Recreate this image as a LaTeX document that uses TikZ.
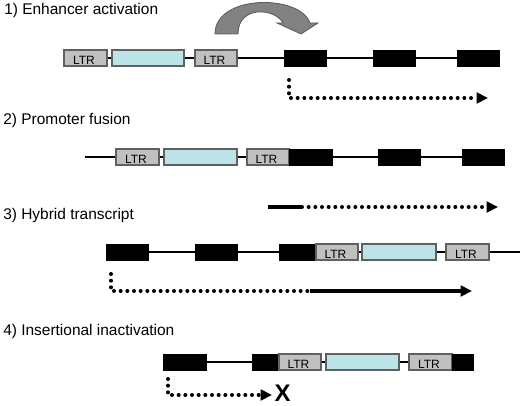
\documentclass[tikz,border=0pt]{standalone}
\usepackage{fontspec}
\setmainfont{Liberation Sans}
\usetikzlibrary{arrows.meta}
\definecolor{ltrgray}{RGB}{192,192,192}
\definecolor{edgegray}{RGB}{96,96,96}
\definecolor{virusblue}{RGB}{188,228,232}
\definecolor{bendgray}{RGB}{130,130,130}
\tikzset{
	gene/.style={line width=0.8pt},
	exon/.style={fill=black},
	ltr/.style={fill=ltrgray, draw=edgegray, line width=0.8pt},
	virus/.style={fill=virusblue, draw=edgegray, line width=0.8pt},
	ltrtext/.style={anchor=base, inner sep=0pt, font=\fontsize{9}{10}\selectfont},
	title/.style={anchor=base west, inner sep=0pt, font=\fontsize{11.6}{14}\selectfont},
	dots/.style={line width=3pt, line cap=round, dash pattern=on 0pt off 5pt},
	bar/.style={line width=2.4pt},
	tip/.style={-{Triangle[length=8.5pt,width=8pt]}}
}
\def\ltrbox#1(#2:#3:#4){\draw[ltr] (#2,#4) rectangle (#3,#4+16); \node[ltrtext] (#1) at ({(#2+#3)/2-1.5},#4+14.5) {LTR};}

\begin{document}
\begin{tikzpicture}[x=0.75pt, y=-0.75pt]
	\useasboundingbox (0,0) rectangle (520,406);
	%%%%% 1) enhancer %%%%%
	\node[title] (t1) at (4,15) {1) Enhancer activation};
	\draw[fill=bendgray, draw=black!65, line width=0.6pt] (215,34) .. controls (215,-6) and (300,-6) .. (310,23) -- (318,23) -- (301,34) -- (277,23) -- (283,23) .. controls (275,8) and (238,5) .. (238,34) -- cycle;
	\draw[gene] (64,58) -- (499,58);
	\ltrbox{ltrA}(64:107:50)
	\draw[virus] (112,50) rectangle (184,66);
	\ltrbox{ltrB}(195:237:50)
	\draw[exon] (284,50) rectangle (326,66);
	\draw[exon] (373,50) rectangle (415,66);
	\draw[exon] (457,50) rectangle (499,66);
	\draw[dots, tip] (289,80) -- (289,98) -- (488,98);
	
	%%%%% 2) promoter %%%%%
	\node[title] (t2) at (3,125) {2) Promoter fusion};
	\draw[gene] (85,157) -- (504,157);
	\ltrbox{ltrC}(116:159:149)
	\draw[virus] (164,149) rectangle (237,165);
	\ltrbox{ltrD}(247:289:149)
	\draw[exon] (289,149) rectangle (332,165);
	\draw[exon] (378,149) rectangle (420,165);
	\draw[exon] (462,149) rectangle (504,165);
	\draw[bar] (268,207) -- (302,207);
	\draw[dots, tip] (302,207) -- (498,207);
	
	%%%%% 3) hybrid %%%%%
	\node[title] (t3) at (3,219) {3) Hybrid transcript};
	\draw[gene] (106,252) -- (520,252);
	\draw[exon] (106,244) rectangle (148,260);
	\draw[exon] (195,244) rectangle (237,260);
	\draw[exon] (279,244) rectangle (316,260);
	\ltrbox{ltrE}(316:358:244)
	\draw[virus] (362,244) rectangle (436,260);
	\ltrbox{ltrF}(446:489:244)
	\draw[dots] (111,274) -- (111,291) -- (310,291);
	\draw[bar, tip] (310,291) -- (472,291);
	
	%%%%% 4) inactivation %%%%%
	\node[title] (t4) at (3,335) {4) Insertional inactivation};
	\draw[gene] (163,362) -- (473,362);
	\draw[exon] (163,354) rectangle (206,370);
	\draw[exon] (252,354) rectangle (279,370);
	\ltrbox{ltrG}(279:321:354)
	\draw[virus] (326,354) rectangle (399,370);
	\ltrbox{ltrH}(409:452:354)
	\draw[exon] (452,354) rectangle (473,370);
	\draw[dots, tip] (168,379) -- (168,395) -- (272,395);
	\node[inner sep=0pt, font=\fontsize{18}{20}\selectfont\bfseries] (stop) at (282.5,393) {X};
\end{tikzpicture}
\end{document}
